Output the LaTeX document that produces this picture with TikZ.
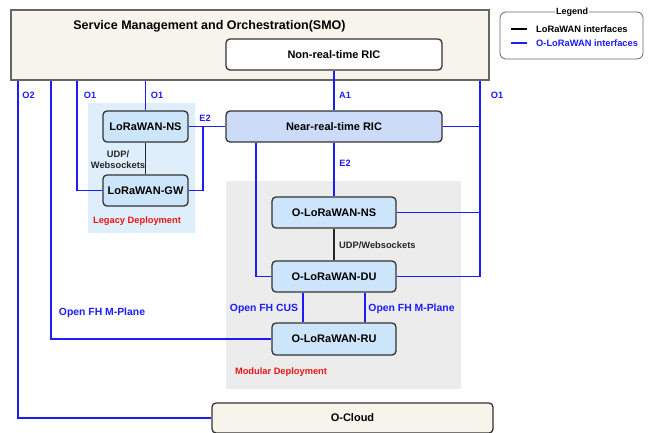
\documentclass[tikz,border=0pt]{standalone}
\usepackage{fontspec}
\setmainfont{Liberation Sans}
\usetikzlibrary{calc}
\definecolor{ifblue}{RGB}{28,28,255}
\definecolor{smofill}{RGB}{247,244,236}
\definecolor{nodefill}{RGB}{205,229,251}
\definecolor{ricfill}{RGB}{204,220,248}
\definecolor{legacyfill}{RGB}{222,238,251}
\definecolor{modfill}{RGB}{236,236,236}
\definecolor{lblred}{RGB}{235,20,20}
\tikzset{
  box/.style={rectangle, rounded corners=4pt, draw=black!80, line width=1.3pt, fill=nodefill,
    inner sep=0pt, font=\bfseries\fontsize{11}{13}\selectfont},
  oif/.style={draw=ifblue, line width=1.9pt},
  lif/.style={draw=black!85, line width=1.5pt},
  blbl/.style={text=ifblue, font=\bfseries\fontsize{9.2}{10.5}\selectfont, inner sep=0pt},
  fhlbl/.style={text=ifblue, font=\bfseries\fontsize{10.4}{12}\selectfont, inner sep=0pt},
  klbl/.style={text=black!85, font=\bfseries\fontsize{9.3}{11}\selectfont, inner sep=0pt, align=center},
  rlbl/.style={text=lblred, font=\bfseries\fontsize{9.3}{10.5}\selectfont, inner sep=0pt},
}
\begin{document}
\begin{tikzpicture}[x=1pt,y=-1pt]
\clip (0,0) rectangle (650,432);
\fill[white] (0,0) rectangle (650,432);
% regions
\fill[legacyfill] (88,103) rectangle (195,233);
\fill[modfill] (226,181) rectangle (461,389);
% SMO
\node[rectangle, draw=black!60, line width=1.6pt, fill=smofill, minimum width=478pt, minimum height=70pt, inner sep=0pt] (smo) at (250,45) {};
\node[font=\bfseries\fontsize{12.5}{14}\selectfont, inner sep=0pt] (smotitle) at (209.5,26) {Service Management and Orchestration(SMO)};
\node[box, fill=white, minimum width=216pt, minimum height=31pt] (nonrt) at (334,54.5) {Non-real-time RIC};
% nodes
\node[box, fill=ricfill, minimum width=216pt, minimum height=31pt] (nearrt) at (334,126.5) {Near-real-time RIC};
\node[box, minimum width=85pt, minimum height=31pt] (lns) at (145.5,126.5) {LoRaWAN-NS};
\node[box, minimum width=85pt, minimum height=31pt] (lgw) at (145.5,190.5) {LoRaWAN-GW};
\node[box, minimum width=124pt, minimum height=31pt] (ons) at (334,212.5) {O-LoRaWAN-NS};
\node[box, minimum width=124pt, minimum height=31pt] (odu) at (334,276.5) {O-LoRaWAN-DU};
\node[box, minimum width=124pt, minimum height=32pt] (oru) at (334,339) {O-LoRaWAN-RU};
\node[box, fill=smofill, minimum width=281pt, minimum height=30pt] (ocloud) at (352.5,418) {O-Cloud};
% helper x coordinates
\coordinate (x18) at (18,0);
\coordinate (x51) at (51,0);
\coordinate (x77) at (77,0);
\coordinate (x256) at (256,0);
\coordinate (x303) at (303,0);
\coordinate (x365) at (365,0);
\coordinate (x480) at (480,0);
\coordinate (x203) at (203,0);
% connectors
\draw[oif] (smo.south -| x18) |- (ocloud.west);
\draw[oif] (smo.south -| x51) |- (oru.west);
\draw[oif] (smo.south -| x77) |- (lgw.west);
\draw[oif] (smo.south -| lns.north) -- (lns.north);
\draw[oif] (nonrt.south) -- (nearrt.north);
\draw[oif] (smo.south -| x480) |- (odu.east);
\draw[oif] (nearrt.east) -- (nearrt.east -| x480);
\draw[oif] (ons.east) -- (ons.east -| x480);
\draw[oif] (lns.east) -- (nearrt.west);
\draw[oif] (lgw.east) -| (lns.east -| x203);
\draw[oif] (nearrt.south -| x256) |- (odu.west);
\draw[oif] (nearrt.south) -- (ons.north);
\draw[oif] (odu.south -| x303) -- (oru.north -| x303);
\draw[oif] (odu.south -| x365) -- (oru.north -| x365);
\draw[lif] (lns.south) -- (lgw.north);
\draw[lif] (ons.south) -- (odu.north);
% labels
\node[blbl] (lo2) at (28.5,95) {O2};
\node[blbl] (lo1a) at (90,95) {O1};
\node[blbl] (lo1b) at (157,95) {O1};
\node[blbl] (la1) at (345,95) {A1};
\node[blbl] (lo1c) at (497,95) {O1};
\node[blbl] (le2a) at (205,118) {E2};
\node[blbl] (le2b) at (345,163) {E2};
\node[klbl] (ludp1) at (118,160) {UDP/\\Websockets};
\node[klbl, anchor=west] (ludp2) at (339,245) {UDP/Websockets};
\node[fhlbl] (lcus) at (264,309) {Open FH CUS};
\node[fhlbl] (lmp1) at (411.5,309) {Open FH M-Plane};
\node[fhlbl] (lmp2) at (102,312.5) {Open FH M-Plane};
\node[rlbl] (llegacy) at (137,221) {Legacy Deployment};
\node[rlbl] (lmodular) at (281,372) {Modular Deployment};
% legend
\node[rectangle, rounded corners=6pt, draw=black!60, line width=0.8pt, fill=white, minimum width=143pt, minimum height=47pt, inner sep=0pt] (legend) at (571.5,35.5) {};
\node[fill=white, inner sep=1pt, font=\bfseries\fontsize{9}{10}\selectfont] (legtitle) at (572,12.5) {Legend};
\coordinate (lg1a) at (511,29);
\coordinate (lg1b) at (527,29);
\coordinate (lg2a) at (511,43);
\coordinate (lg2b) at (527,43);
\draw[draw=black, line width=2.5pt] (lg1a) -- (lg1b);
\draw[draw=ifblue, line width=2.5pt] (lg2a) -- (lg2b);
\node[klbl, anchor=west, text=black] (legt1) at (536,29) {LoRaWAN interfaces};
\node[blbl, anchor=west, font=\bfseries\fontsize{9.3}{10.5}\selectfont] (legt2) at (536,43) {O-LoRaWAN interfaces};
\end{tikzpicture}
\end{document}
